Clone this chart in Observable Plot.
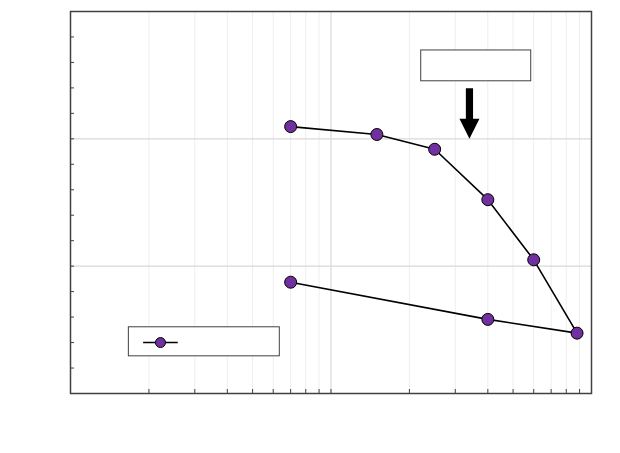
<!DOCTYPE html>
<html>
<head>
<meta charset="utf-8">
<script src="https://cdn.jsdelivr.net/npm/d3@7"></script>
<script src="https://cdn.jsdelivr.net/npm/@observablehq/plot@0.6"></script>
<style>
  html, body { margin: 0; padding: 0; background: #fff; }
  #chart { width: 620px; height: 453px; }
</style>
</head>
<body>
<div id="chart"></div>
<script>
// Series (path order: upper branch left→right, then lower branch right→left)
const xValues = [7, 15, 25, 40, 60, 88, 40, 7];
const yValues = [10.48, 10.17, 9.59, 7.61, 5.25, 2.37, 2.91, 4.37];

// Axis ticks
const xMajorTicks = [1, 10, 100];
const xMinorTicks = [2, 3, 4, 5, 6, 7, 8, 9, 20, 30, 40, 50, 60, 70, 80, 90];
const yTicks = [1, 2, 3, 4, 5, 6, 7, 8, 9, 10, 11, 12, 13, 14];
const yGrid = [5, 10];

// Annotation box + arrow (data coordinates)
const noteBox = [{x1: 22.2, x2: 58.7, y1: 12.26, y2: 13.47}];
const arrowTip = [{x: 34, y: 10}];

// Legend (data coordinates)
const legendBox = [{x1: 1.675, x2: 6.36, y1: 1.46, y2: 2.60}];
const legendLine = [{x1: 1.90, x2: 2.58, y: 2.0}];
const legendDot = [{x: 2.215, y: 2.0}];

const data = xValues.map((x, i) => ({x, y: yValues[i]}));

const blockArrow = {
  draw(c, l) {
    const w = 3.6, hw = 10, hl = 20;
    c.moveTo(-w, 0);
    c.lineTo(-w, -(l - hl));
    c.lineTo(-hw, -(l - hl));
    c.lineTo(0, -l);
    c.lineTo(hw, -(l - hl));
    c.lineTo(w, -(l - hl));
    c.lineTo(w, 0);
    c.closePath();
  }
};

const plotW = 620 - 70 - 29;
const plotH = 453 - 11 - 60;

const chart = Plot.plot({
  width: 620,
  height: 453,
  marginLeft: 70,
  marginRight: 29,
  marginTop: 11,
  marginBottom: 60,
  x: {type: "log", domain: [1, 100], axis: null},
  y: {domain: [0, 15], axis: null},
  marks: [
    Plot.tickX(xMinorTicks, {x: d => d, stroke: "#eeeeee", strokeWidth: 1}),
    Plot.tickX([10], {x: d => d, stroke: "#d9d9d9", strokeWidth: 1.2}),
    Plot.tickY(yGrid, {y: d => d, stroke: "#d9d9d9", strokeWidth: 1.2}),
    // inward ticks
    Plot.tickX(xMinorTicks.concat(xMajorTicks), {x: d => d, insetTop: plotH - 4, stroke: "#404040", strokeWidth: 1}),
    Plot.tickY(yTicks, {y: d => d, insetRight: plotW - 4, stroke: "#404040", strokeWidth: 1}),
    Plot.frame({stroke: "#404040", strokeWidth: 1.5}),
    // annotation
    Plot.rect(noteBox, {x1: "x1", x2: "x2", y1: "y1", y2: "y2", fill: "white", stroke: "#404040", strokeWidth: 1}),
    Plot.vector(arrowTip, {x: "x", y: "y", length: 50.7, rotate: 180, anchor: "end", shape: blockArrow, fill: "black", stroke: "none"}),
    // series
    Plot.line(data, {x: "x", y: "y", stroke: "black", strokeWidth: 1.6}),
    Plot.dot(data, {x: "x", y: "y", r: 6, fill: "#7030A0", stroke: "black", strokeWidth: 1}),
    // legend
    Plot.rect(legendBox, {x1: "x1", x2: "x2", y1: "y1", y2: "y2", fill: "white", stroke: "#404040", strokeWidth: 1}),
    Plot.link(legendLine, {x1: "x1", x2: "x2", y1: "y", y2: "y", stroke: "black", strokeWidth: 1.6}),
    Plot.dot(legendDot, {x: "x", y: "y", r: 5, fill: "#7030A0", stroke: "black", strokeWidth: 1})
  ]
});

document.getElementById("chart").appendChild(chart);
</script>
</body>
</html>
